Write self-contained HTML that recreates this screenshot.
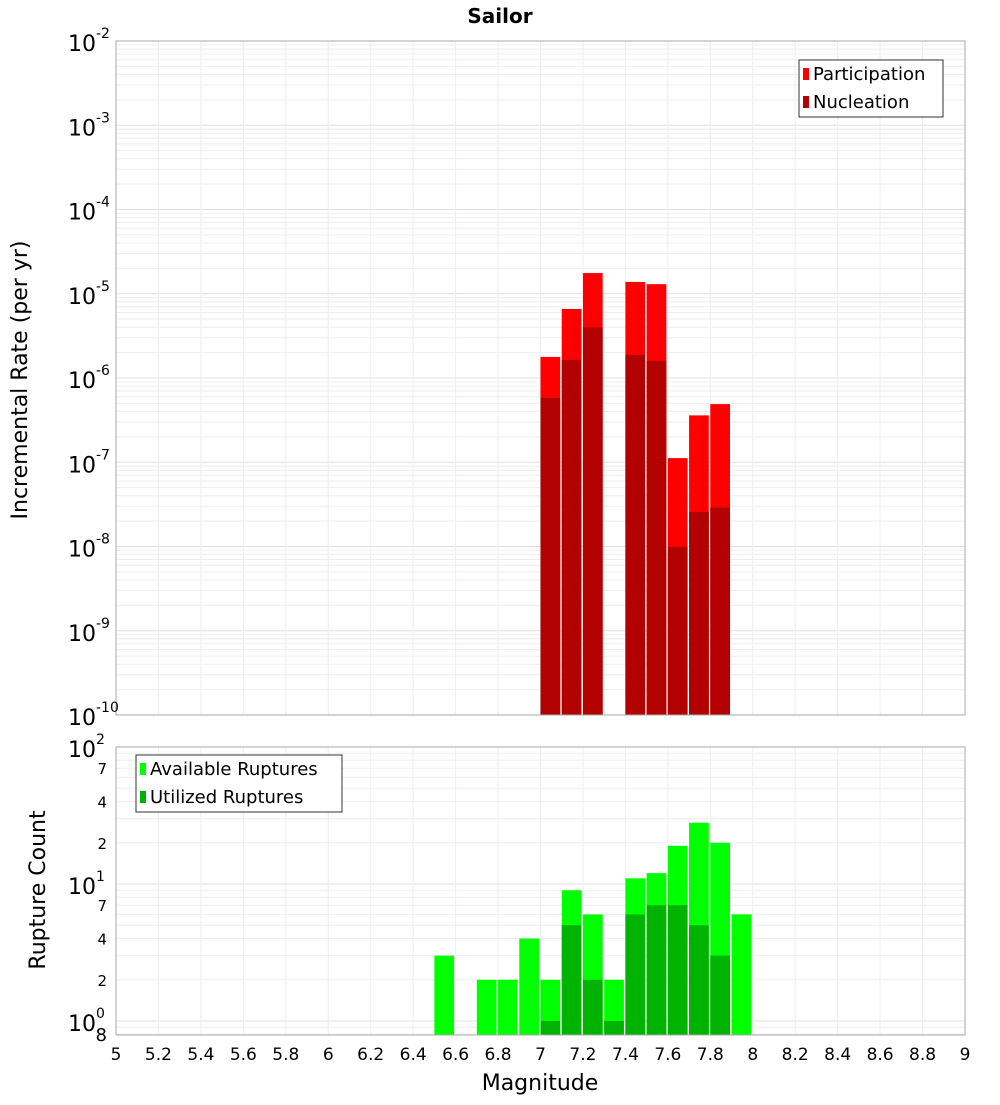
<!DOCTYPE html>
<html><head><meta charset="utf-8"><style>
body{margin:0;background:#fff;font-family:"Liberation Sans","DejaVu Sans",sans-serif}
</style></head><body>
<svg id="c" width="1000" height="1100" xmlns="http://www.w3.org/2000/svg" font-family="DejaVu Sans, Liberation Sans, sans-serif">
<text x="500" y="23" text-anchor="middle" font-size="20" font-weight="bold">Sailor</text>
<g id="topg"></g><g id="botg"></g>
<text transform="translate(27,380) rotate(-90)" text-anchor="middle" font-size="22">Incremental Rate (per yr)</text>
<text transform="translate(45,890) rotate(-90)" text-anchor="middle" font-size="22">Rupture Count</text>
<text x="540" y="1090" text-anchor="middle" font-size="22">Magnitude</text>
</svg>
<script>
const mags=[7.0,7.1,7.2,7.4,7.5,7.6,7.7,7.8];
const participation=[1.78e-6,6.6e-6,1.76e-5,1.38e-5,1.3e-5,1.12e-7,3.6e-7,4.9e-7];
const nucleation=[5.8e-7,1.64e-6,4.0e-6,1.87e-6,1.6e-6,9.9e-9,2.57e-8,2.9e-8];
const countMags=[6.5,6.7,6.8,6.9,7.0,7.1,7.2,7.3,7.4,7.5,7.6,7.7,7.8,7.9];
const available=[3,2,2,4,2,9,6,2,11,12,19,28,20,6];
const utilized=[0,0,0,0,1,5,2,1,6,7,7,5,3,0];
const xTicks=[5,5.2,5.4,5.6,5.8,6,6.2,6.4,6.6,6.8,7,7.2,7.4,7.6,7.8,8,8.2,8.4,8.6,8.8,9];

const NS="http://www.w3.org/2000/svg";
const L=116,R=965;
const X=m=>L+(m-5)*(R-L)/4;
const TT=41,TB=715;
const YT=v=>TT+(-2-Math.log10(v))*(TB-TT)/8;
const BT=747,BD=137,BB=1035;
const YB=v=>BT+(2-Math.log10(v))*BD;
function mk(tag,attrs,parent,text){const e=document.createElementNS(NS,tag);for(const k in attrs)e.setAttribute(k,attrs[k]);if(text!==undefined)e.textContent=text;parent.appendChild(e);return e;}
const topG=document.getElementById('topg'),botG=document.getElementById('botg');

for(let d=-10;d<-2;d++){for(let k=1;k<10;k++){const y=YT(k*Math.pow(10,d));
 const g=mk('line',{x1:L,x2:R,y1:y,y2:y,stroke:k==1?'#e0e0e0':'#eeeeee','stroke-width':1},topG);
 
 }}
xTicks.forEach(t=>{const g=mk('line',{x1:X(t),x2:X(t),y1:TT,y2:TB,stroke:'#eeeeee'},topG);
 
 });
for(let d=-1;d<2;d++){for(let k=1;k<10;k++){const v=k*Math.pow(10,d);const y=YB(v);if(y>BB||y<BT)continue;
 const g=mk('line',{x1:L,x2:R,y1:y,y2:y,stroke:k==1?'#e0e0e0':'#eeeeee'},botG);
 
 }}
xTicks.forEach(t=>{const g=mk('line',{x1:X(t),x2:X(t),y1:BT,y2:BB,stroke:'#eeeeee'},botG);
 
 });

const bw=X(5.1)-X(5)-1.5;
mags.forEach((m,i)=>{
 let r=mk('rect',{x:X(m),y:YT(participation[i]),width:bw,height:TB-YT(participation[i]),fill:'#ff0000'},topG);
 
 
 r=mk('rect',{x:X(m),y:YT(nucleation[i]),width:bw,height:TB-YT(nucleation[i]),fill:'#b30000'},topG);
 
 
});
countMags.forEach((m,i)=>{
 let r=mk('rect',{x:X(m),y:YB(available[i]),width:bw,height:BB-YB(available[i]),fill:'#00ff00'},botG);
 
 
 if(utilized[i]>0){r=mk('rect',{x:X(m),y:YB(utilized[i]),width:bw,height:BB-YB(utilized[i]),fill:'#00b300'},botG);
 
 }
});
let f=mk('rect',{x:L,y:TT,width:R-L,height:TB-TT,fill:'none',stroke:'#aaaaaa'},topG);


f=mk('rect',{x:L,y:BT,width:R-L,height:BB-BT,fill:'none',stroke:'#aaaaaa'},botG);



for(let d=-10;d<=-2;d++){const y=YT(Math.pow(10,d));
 const t=mk('text',{x:96,y:y+10,'text-anchor':'end','font-size':22},topG,'10');
 
 
 const s=mk('text',{x:96,y:y-3,'font-size':14},topG,String(d));
 
 }
[[100,'10','2'],[10,'10','1'],[1,'10','0']].forEach(a=>{const y=YB(a[0]);
 const t=mk('text',{x:96,y:y+10,'text-anchor':'end','font-size':22},botG,a[1]);
 
 
 const s=mk('text',{x:96,y:y-3,'font-size':14},botG,a[2]);
 
 });
[70,40,20,7,4,2].forEach(v=>{const t=mk('text',{x:107,y:YB(v)+6,'text-anchor':'end','font-size':15},botG,String(v).charAt(0));
 
 });
let e8=mk('text',{x:107,y:1041,'text-anchor':'end','font-size':18},botG,'8');


xTicks.forEach(t=>{const e=mk('text',{x:X(t),y:1060,'text-anchor':'middle','font-size':17},botG,String(t));
 
 });

function legend(p,x,y,w,items,name){const g=mk('g',{},p);
 
 
 mk('rect',{x:x,y:y,width:w,height:57,fill:'#fff',stroke:'#333'},g);
 items.forEach((it,i)=>{mk('rect',{x:x+4,y:y+8+i*28,width:6,height:12,fill:it[1]},g);
  const t=mk('text',{x:x+14,y:y+20+i*28,'font-size':18},g,it[0]);
  
  });}
legend(topG,799,60,144,[['Participation','#ff0000'],['Nucleation','#b30000']],'top-legend');
legend(botG,136,755,206,[['Available Ruptures','#00ff00'],['Utilized Ruptures','#00b300']],'bottom-legend');
</script>
</body></html>
